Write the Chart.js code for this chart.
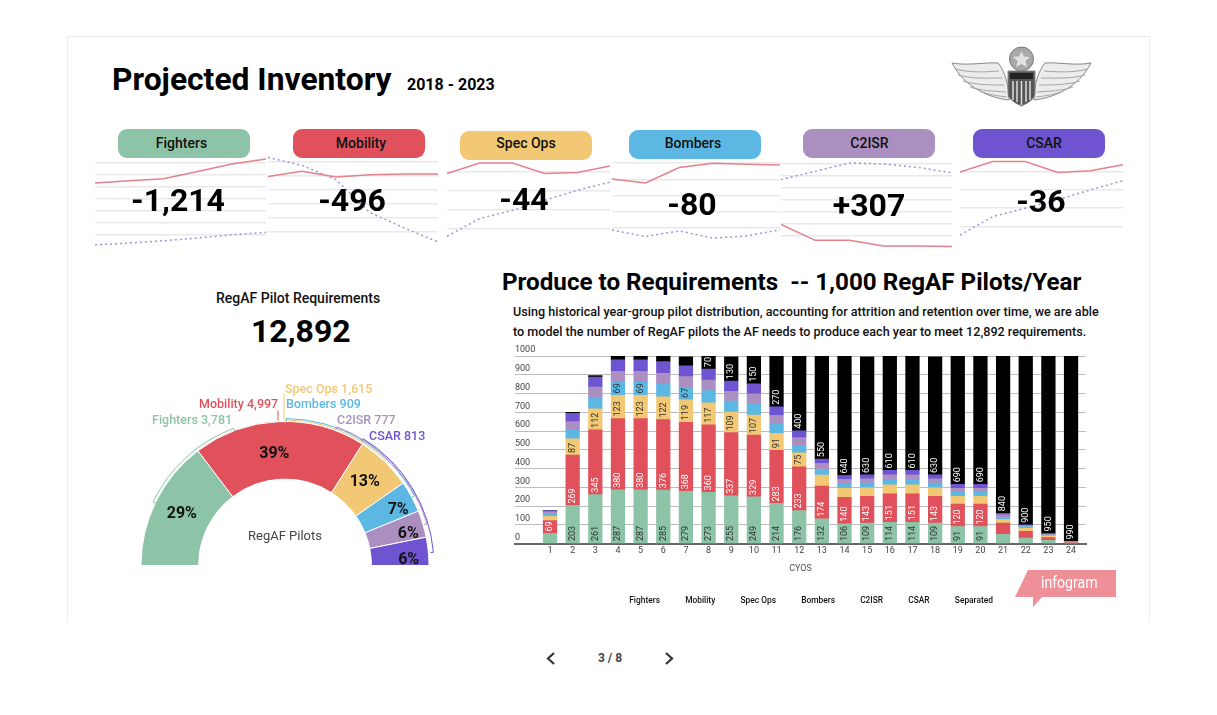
<!DOCTYPE html>
<html>
<head>
<meta charset="utf-8">
<title>Projected Inventory</title>
<script src="https://cdn.jsdelivr.net/npm/chart.js@4"></script>
<style>
  html, body { margin: 0; background: #fff; font-family: Roboto, sans-serif; color: #111; }
  #page { position: relative; width: 1217px; height: 715px; overflow: hidden; }
  #frame { position: absolute; left: 67px; top: 36px; width: 1083px; height: 586px; border: 1px solid #ececec; border-bottom: none; box-sizing: border-box; }
  canvas { position: absolute; }
  .txt { position: absolute; white-space: pre; line-height: 1; z-index: 3; }
  .pill { position: absolute; width: 132px; height: 29px; border-radius: 9px; text-align: center; font-size: 14px; font-weight: 500; z-index: 3; }
  .delta { position: absolute; width: 170px; text-align: center; font-size: 32px; font-weight: 700; line-height: 1; color: #000; z-index: 3; }
  svg { position: absolute; left: 0; top: 0; }
</style>
</head>
<body>
<div id="page">
  <div id="frame"></div>
  <svg width="1217" height="715" viewBox="0 0 1217 715">
    <!-- command pilot wings -->
    <g id="wing" fill="#ececec" stroke="#888" stroke-width="1">
      <path d="M1009 100 C990 98 965 88 952 63 C968 66 985 62 998 63 C1004 70 1009 84 1009 100Z"/>
      <path d="M955 69 C970 73 985 72 999 71 M958 75 C972 79 988 78 1002 78 M963 81 C976 85 990 85 1004 85 M970 87 C981 91 994 91 1006 92 M982 92 C990 95 998 96 1007 97" fill="none" stroke="#a5a5a5"/>
    </g>
    <use href="#wing" transform="translate(2043,0) scale(-1,1)"/>
    <circle cx="1021.500" cy="59" r="12" fill="#a8a8a8" stroke="#777"/>
    <path d="M1021.500 51 l2.500 5.500 6 .5 -4.500 4 1.500 6 -5.500 -3 -5.500 3 1.500 -6 -4.500 -4 6 -.5Z" fill="#e2e2e2"/>
    <path d="M1008 71 H1035 V94 Q1035 100 1021.500 106 Q1008 100 1008 94Z" fill="#555" stroke="#888"/>
    <rect x="1010" y="73" width="23" height="6" fill="#222"/>
    <path d="M1013 81 V100 M1017 81 V102 M1021.500 81 V105 M1026 81 V102 M1030 81 V100" stroke="#ddd" stroke-width="1.500"/>
    <!-- infogram badge -->
    <path d="M1028 570 H1116 V597 H1042 L1033 607 V597 H1015Z" fill="#ef8f98"/>
    <!-- pager -->
    <path d="M554 653 L548 658.500 L554 664 M666 653 L672 658.500 L666 664" fill="none" stroke="#333" stroke-width="2.200"/>
  </svg>

  <div class="txt" style="left:112px;top:64px;font-size:31.800px;font-weight:700;color:#000">Projected Inventory</div>
  <div class="txt" style="left:407px;top:77px;font-size:16px;font-weight:700;color:#000">2018 - 2023</div>
  <div class="txt" style="left:216px;top:291px;font-size:14px;font-weight:500">RegAF Pilot Requirements</div>
  <div class="txt" style="left:251px;top:315px;font-size:32px;font-weight:700;color:#000">12,892</div>
  <div class="txt" style="left:502px;top:270px;font-size:24.200px;font-weight:700;color:#000">Produce to Requirements  -- 1,000 RegAF Pilots/Year</div>
  <div class="txt" style="left:513px;top:306px;font-size:12.600px;font-weight:500">Using historical year-group pilot distribution, accounting for attrition and retention over time, we are able</div>
  <div class="txt" style="left:513px;top:326px;font-size:12.600px;font-weight:500">to model the number of RegAF pilots the AF needs to produce each year to meet 12,892 requirements.</div>
  <div class="txt" style="left:1041px;top:575px;font-size:16px;color:#fff;transform:scaleX(.88);transform-origin:left">infogram</div>
  <div class="txt" style="left:598px;top:652px;font-size:12px;font-weight:700;color:#444">3 / 8</div>

  <canvas id="gauge" width="310" height="191" style="left:130px;top:375px;width:310px;height:191px"></canvas>
  <canvas id="cyosBars" width="618" height="275" style="left:500px;top:340px;width:618px;height:275px"></canvas>
</div>

<script>
// data
const groupNames = ['Fighters', 'Mobility', 'Spec Ops', 'Bombers', 'C2ISR', 'CSAR'];
const groupColors = ['#8dc3a7', '#e1515b', '#f2c874', '#5cb8e3', '#ab8fc0', '#6e54d0'];
const groupDeltas = ['-1,214', '-496', '-44', '-80', '+307', '-36'];
const requirements = [3781, 4997, 1615, 909, 777, 813];
const percents = ['29%', '39%', '13%', '7%', '6%', '6%'];

const years = ['2018', '2019', '2020', '2021', '2022', '2023'];
const fightersRed = [533, 552, 569, 630, 692, 733];
const fightersDots = [19, 33, 52, 75, 102, 122];
const mobilityRed = [497, 533, 493, 509, 514, 514];
const mobilityDots = [633, 576, 474, 238, 130, 29];
const specOpsRed = [392, 447, 447, 392, 398, 432];
const specOpsDots = [62, 155, 198, 251, 304, 347];
const bombersRed = [402, 378, 473, 499, 493, 489];
const bombersDots = [86, 46, 81, 36, 50, 88];
const c2isrRed = [197, 64, 64, 17, 17, 12];
const c2isrDots = [570, 639, 709, 700, 672, 626];
const csarRed = [396, 454, 454, 394, 403, 436];
const csarDots = [54, 154, 200, 245, 300, 349];

const cyos = [1, 2, 3, 4, 5, 6, 7, 8, 9, 10, 11, 12, 13, 14, 15, 16, 17, 18, 19, 20, 21, 22, 23, 24];
const fighters = [54, 203, 261, 287, 287, 285, 279, 273, 255, 249, 214, 176, 132, 106, 109, 114, 114, 109, 91, 91, 50, 30, 18, 3];
const mobility = [69, 269, 345, 380, 380, 376, 368, 360, 337, 329, 283, 233, 174, 140, 143, 151, 151, 143, 120, 120, 60, 36, 14, 3];
const specOps = [23, 87, 112, 123, 123, 122, 119, 117, 109, 107, 91, 75, 59, 48, 45, 48, 48, 45, 41, 41, 18, 16, 9, 2];
const bombers = [12, 46, 59, 69, 69, 66, 67, 66, 59, 61, 50, 38, 30, 23, 25, 27, 27, 25, 23, 23, 11, 9, 5, 1];
const c2isr = [12, 45, 57, 59, 59, 59, 57, 55, 52, 52, 46, 43, 32, 25, 23, 27, 27, 23, 20, 20, 14, 5, 4, 1];
const csar = [6, 45, 54, 62, 62, 62, 57, 59, 54, 54, 45, 36, 23, 21, 21, 23, 23, 21, 21, 21, 9, 4, 4, 1];
const separated = [0, 5, 8, 18, 18, 28, 48, 70, 130, 150, 270, 400, 550, 640, 630, 610, 610, 630, 690, 690, 840, 900, 950, 990];
const yTicksMax = 1000;

const page = document.getElementById('page');
const FONT = 'Roboto, sans-serif';

// pills and the small inventory lines on top
const sparks = [
  { red: fightersRed, dots: fightersDots, left: 95, width: 171, top: 151.3, step: 12, count: 7, pillX: 118, pillY: 129, textShift: -5, textLine: 28, deltaX: 93, deltaY: 184 },
  { red: mobilityRed, dots: mobilityDots, left: 268, width: 170, top: 148.3, step: 14, count: 6, pillX: 293, pillY: 129, textShift: 4, textLine: 28, deltaX: 267, deltaY: 184 },
  { red: specOpsRed, dots: specOpsDots, left: 447, width: 163, top: 152.7, step: 19, count: 4, pillX: 460, pillY: 131, textShift: 0, textLine: 24, deltaX: 439, deltaY: 183 },
  { red: bombersRed, dots: bombersDots, left: 612, width: 168, top: 146.6, step: 16.1, count: 5, pillX: 629, pillY: 130, textShift: -4, textLine: 26, deltaX: 607, deltaY: 188 },
  { red: c2isrRed, dots: c2isrDots, left: 781, width: 171, top: 152.3, step: 12.05, count: 7, pillX: 803, pillY: 129, textShift: 1, textLine: 28, deltaX: 784, deltaY: 189 },
  { red: csarRed, dots: csarDots, left: 960, width: 163, top: 153.3, step: 18.35, count: 4, pillX: 973, pillY: 129, textShift: 10, textLine: 28, deltaX: 956, deltaY: 185 }
];

sparks.forEach((s, i) => {
  const pill = document.createElement('div');
  pill.className = 'pill';
  pill.textContent = groupNames[i];
  pill.style.cssText = `left:${s.pillX}px;top:${s.pillY}px;background:${groupColors[i]};line-height:${s.textLine}px;` +
    `box-sizing:border-box;padding-left:${Math.max(s.textShift, 0)}px;padding-right:${Math.max(-s.textShift, 0)}px`;
  page.appendChild(pill);

  const delta = document.createElement('div');
  delta.className = 'delta';
  delta.textContent = groupDeltas[i];
  delta.style.cssText = `left:${s.deltaX}px;top:${s.deltaY}px`;
  page.appendChild(delta);

  const cv = document.createElement('canvas');
  const h = s.step * (s.count + 1);
  cv.width = s.width;
  cv.height = Math.round(h);
  cv.style.cssText = `left:${s.left}px;top:${s.top}px;width:${s.width}px;height:${Math.round(h)}px`;
  page.appendChild(cv);

  new Chart(cv.getContext('2d'), {
    type: 'line',
    data: {
      labels: years,
      datasets: [
        { data: s.red, borderColor: '#e5808c', borderWidth: 1.5, pointRadius: 0, tension: 0 },
        { data: s.dots, borderColor: '#a093dc', borderWidth: 1.5, borderDash: [2, 3], pointRadius: 0, tension: 0 }
      ]
    },
    options: {
      responsive: false,
      animation: false,
      layout: { padding: 0 },
      plugins: { legend: { display: false }, tooltip: { enabled: false } },
      scales: {
        x: { display: false },
        y: {
          min: 0,
          max: (s.count + 1) * 100,
          afterFit: sc => { sc.width = 0; },
          border: { display: false },
          ticks: { display: false, stepSize: 100 },
          grid: {
            drawTicks: false,
            lineWidth: 1.5,
            color: c => (c.tick.value === 0 || c.tick.value === (s.count + 1) * 100) ? 'rgba(0,0,0,0)' : '#e9e9e9'
          }
        }
      }
    }
  });
});

// half doughnut, labels and brackets
const brackets = [
  { color: groupColors[0], from: 25.7, to: 69.5, r: 146.5 },
  { color: groupColors[2], from: 90, to: 133.6, r: 145.5 },
  { color: groupColors[3], from: 90.5, to: 151.7, r: 147 },
  { color: groupColors[4], from: 110.5, to: 163.6, r: 148 },
  { color: groupColors[5], from: 121.7, to: 174.9, r: 149 }
];
const outerLabelPos = [[22, 46], [69, 30], [155, 15], [156, 30], [207, 46], [239, 62]];
const pctNudge = [[0, 0], [-6, 4], [0, 0], [12, 0], [13, 2], [9, 6]];

const gaugeText = {
  id: 'gaugeText',
  afterDatasetsDraw(chart) {
    const ctx = chart.ctx;
    const arcs = chart.getDatasetMeta(0).data;
    const cx = arcs[0].x, cy = arcs[0].y;
    ctx.save();
    ctx.lineWidth = 1;
    brackets.forEach(b => {
      const a0 = Math.PI + b.from * Math.PI / 180;
      const a1 = Math.PI + b.to * Math.PI / 180;
      ctx.strokeStyle = b.color;
      ctx.beginPath();
      ctx.moveTo(cx + (b.r - 3) * Math.cos(a0), cy + (b.r - 3) * Math.sin(a0));
      ctx.arc(cx, cy, b.r, a0, a1);
      ctx.lineTo(cx + (b.r - 3) * Math.cos(a1), cy + (b.r - 3) * Math.sin(a1));
      ctx.stroke();
    });
    // leader ticks
    ctx.strokeStyle = groupColors[1];
    ctx.beginPath(); ctx.moveTo(cx - 7, cy - 155); ctx.lineTo(cx - 7, cy - 145); ctx.stroke();
    ctx.strokeStyle = groupColors[2];
    ctx.beginPath(); ctx.moveTo(cx - 1, cy - 172); ctx.lineTo(cx - 1, cy - 146); ctx.stroke();

    ctx.textBaseline = 'middle';
    ctx.textAlign = 'left';
    ctx.font = `500 12.5px ${FONT}`;
    groupNames.forEach((n, i) => {
      ctx.fillStyle = groupColors[i];
      ctx.fillText(`${n} ${requirements[i].toLocaleString('en-US')}`, outerLabelPos[i][0], outerLabelPos[i][1]);
    });
    ctx.textAlign = 'center';
    ctx.font = `700 16px ${FONT}`;
    ctx.fillStyle = '#111';
    arcs.forEach((a, i) => {
      const p = a.getCenterPoint();
      ctx.fillText(percents[i], p.x + pctNudge[i][0], p.y + pctNudge[i][1]);
    });
    ctx.font = `400 13px ${FONT}`;
    ctx.fillStyle = '#444';
    ctx.fillText('RegAF Pilots', cx, cy - 29);
    ctx.restore();
  }
};

new Chart(document.getElementById('gauge').getContext('2d'), {
  type: 'doughnut',
  data: {
    labels: groupNames,
    datasets: [{ data: requirements, backgroundColor: groupColors, borderColor: '#ffffff', borderWidth: 1 }]
  },
  options: {
    responsive: false,
    animation: false,
    rotation: -90,
    circumference: 180,
    cutout: '60%',
    layout: { padding: { left: 10.5, right: 10.5, top: 46, bottom: 0 } },
    plugins: { legend: { display: false }, tooltip: { enabled: false } }
  },
  plugins: [gaugeText]
});

// stacked bars
const stackSeries = [fighters, mobility, specOps, bombers, c2isr, csar, separated];
const stackNames = groupNames.concat('Separated');
const stackColors = groupColors.concat('#000000');
const labelColors = ['#333', '#fff', '#333', '#333', '#333', '#333', '#fff'];
const MIN_LABEL = 67;

const barLabels = {
  id: 'barLabels',
  afterDatasetsDraw(chart) {
    const ctx = chart.ctx;
    ctx.save();
    ctx.font = `400 9px ${FONT}`;
    ctx.textAlign = 'left';
    ctx.textBaseline = 'middle';
    stackSeries.forEach((vals, d) => {
      chart.getDatasetMeta(d).data.forEach((el, i) => {
        if (vals[i] < MIN_LABEL) return;
        ctx.save();
        ctx.translate(el.x, el.base - 2);
        ctx.rotate(-Math.PI / 2);
        ctx.fillStyle = labelColors[d];
        ctx.fillText(String(vals[i]), 0, 0);
        ctx.restore();
      });
    });
    ctx.restore();
  }
};

new Chart(document.getElementById('cyosBars').getContext('2d'), {
  type: 'bar',
  data: {
    datasets: stackSeries.map((vals, d) => ({
      label: stackNames[d],
      data: vals.map((v, i) => ({ x: cyos[i], y: v })),
      backgroundColor: stackColors[d],
      barThickness: 13.6
    }))
  },
  options: {
    responsive: false,
    animation: false,
    layout: { padding: { left: 0, right: 0, top: 16, bottom: 0 } },
    plugins: {
      tooltip: { enabled: false },
      legend: {
        position: 'bottom',
        labels: { boxWidth: 0, padding: 21, color: '#111', font: { family: FONT, size: 8.4, weight: '500' } }
      }
    },
    scales: {
      x: {
        type: 'linear',
        stacked: true,
        offset: false,
        bounds: 'data',
        min: -0.545,
        max: 24.66,
        afterBuildTicks: sc => { sc.ticks = cyos.map(v => ({ value: v })); },
        afterFit: sc => { sc.height = 32; },
        grid: { display: false, drawTicks: false },
        border: { color: '#666', width: 2 },
        title: { display: true, text: 'CYOS', color: '#555', font: { family: FONT, size: 9 }, padding: { top: 5, bottom: 1 } },
        ticks: {
          autoSkip: false,
          maxRotation: 0,
          padding: 2,
          color: '#444',
          font: { family: FONT, size: 9 },
          callback: v => String(v)
        }
      },
      y: {
        stacked: true,
        min: 0,
        max: yTicksMax,
        afterFit: sc => { sc.width = 15; },
        border: { display: false },
        grid: { color: '#bdbdbd', lineWidth: 1, drawTicks: false },
        ticks: {
          stepSize: 100,
          mirror: true,
          padding: 0,
          labelOffset: -6,
          color: '#444',
          font: { family: FONT, size: 9 },
          callback: v => String(v)
        }
      },
      // empty axis, only keeps the plot clear of the right side
      yRight: {
        position: 'right',
        afterFit: sc => { sc.width = 32; },
        border: { display: false },
        grid: { display: false, drawTicks: false },
        ticks: { display: false }
      }
    }
  },
  plugins: [barLabels]
});
</script>
</body>
</html>
